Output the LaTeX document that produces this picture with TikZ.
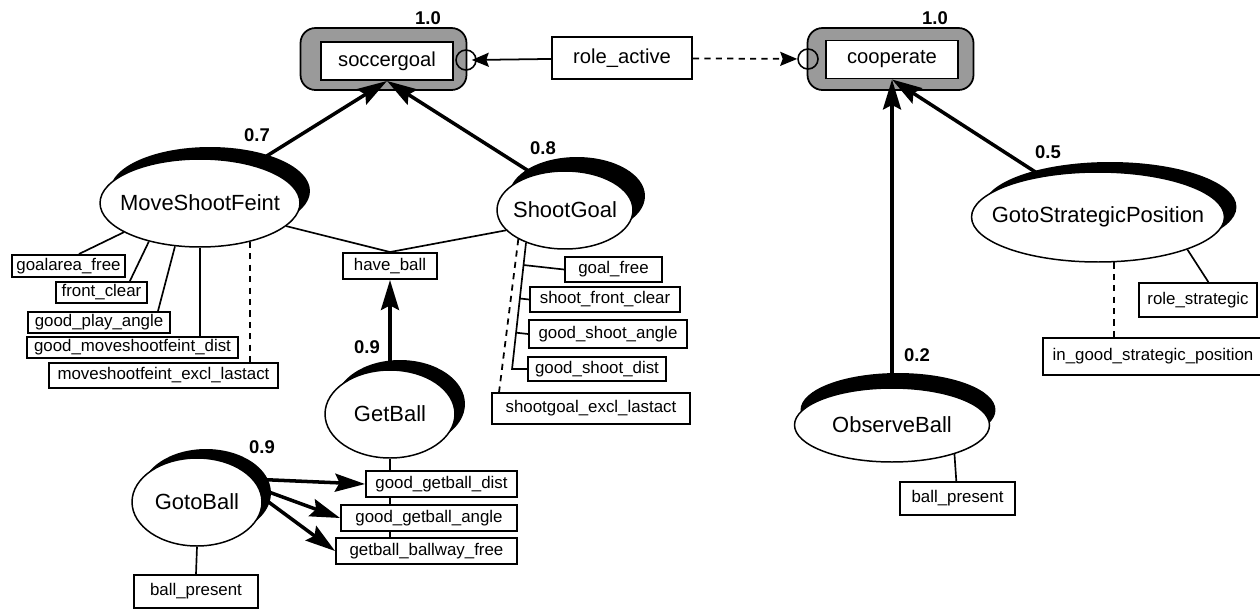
\documentclass[tikz,border=0pt]{standalone}
\usepackage{fontspec}
\setmainfont{Liberation Sans}
\usetikzlibrary{arrows.meta,calc,shadows,shapes.geometric}
\definecolor{GoalGray}{HTML}{9A9A9A}
\newcommand{\actfont}{\fontsize{12.5}{14}\selectfont}
\newcommand{\goalfont}{\fontsize{11.5}{13}\selectfont}
\newcommand{\condfont}{\fontsize{9.6}{11}\selectfont}
\newcommand{\wfont}{\fontsize{10.5}{12}\selectfont\bfseries}

\begin{document}
\begin{tikzpicture}[x=0.02cm,y=-0.02cm,
      act/.style n args={2}{ellipse,draw,fill=white,line width=0.85pt,inner sep=0pt,
      general shadow={fill=black,shadow xshift=#1,shadow yshift=#2}},
      actlbl/.style={font=\actfont,inner sep=0pt},
      goalbox/.style={rounded corners=0.3cm,draw,fill=GoalGray,line width=1pt,
      minimum width=3.32cm,minimum height=1.24cm},
      goalin/.style={draw,fill=white,line width=1.1pt,font=\goalfont,
      minimum width=2.64cm,minimum height=0.76cm},
      ring/.style={circle,draw,line width=0.9pt,minimum size=0.4cm,inner sep=0pt},
      cond/.style={draw,fill=white,line width=1.1pt,font=\condfont,
      inner xsep=1.5pt,inner ysep=0pt,minimum height=0.46cm},
      wt/.style={font=\wfont,inner sep=0pt},
      link/.style={line width=0.95pt},
      excl/.style={line width=1pt,dash pattern=on 3.5pt off 3pt},
      arr/.style={line width=2pt,-{Stealth[length=0.6cm,width=0.36cm,inset=0.09cm]}},
      rarr/.style={line width=1pt,-{Stealth[length=0.34cm,width=0.28cm,inset=0.05cm]}}]
      \useasboundingbox (0,0) rectangle (1260,609);
      % goals
      \node[goalbox] (sgoalbox) at (383.5,59) {};
      \node[goalin] (sgoal) at (387,61) {soccergoal};
      \node[ring] (sgring) at (466,60) {};
      \node[wt] (sgoalw) at (428,18) {1.0};
      \node[goalbox] (coopbox) at (890.5,59) {};
      \node[goalin] (coop) at (892,59.5) {cooperate};
      \node[ring] (coring) at (808,59) {};
      \node[wt] (coopw) at (935,18) {1.0};
      \node[goalin,minimum width=2.8cm,minimum height=0.84cm] (ra) at (622,58) {role\_active};
      \draw[rarr] (ra) -- ([xshift=-0.1cm]sgring.east);
      \draw[rarr,excl] (ra) -- (coring);
      % options
      \node[act={0.2cm}{0.24cm},minimum width=4cm,minimum height=1.76cm,
        label={[actlbl]center:MoveShootFeint}] (msf) at (200,203) {};
      \node[act={0.24cm}{0.28cm},minimum width=2.72cm,minimum height=1.56cm,
        label={[actlbl]center:ShootGoal}] (sg) at (565,210) {};
      \node[act={0.2cm}{0.2cm},minimum width=2.6cm,minimum height=1.76cm,
        label={[actlbl]center:GetBall}] (gb) at (390,414) {};
      \node[act={0.18cm}{0.18cm},minimum width=2.6cm,minimum height=1.76cm,
        label={[actlbl]center:GotoBall}] (gob) at (197,502) {};
      \node[act={0.12cm}{0.3cm},minimum width=3.9cm,minimum height=1.48cm,
        label={[actlbl]center:ObserveBall}] (obs) at (892,425) {};
      \node[act={0.24cm}{0.2cm},minimum width=5.06cm,minimum height=1.8cm,
        label={[actlbl]center:GotoStrategicPosition}] (gsp) at (1098,217) {};
      \node[wt] (msfw) at (257,135) {0.7};
      \node[wt] (sgw) at (543,148) {0.8};
      \node[wt] (gbw) at (367,347) {0.9};
      \node[wt] (gobw) at (262,447) {0.9};
      \node[wt] (obsw) at (917,355) {0.2};
      \node[wt] (gspw) at (1048,152) {0.5};
      % conditions
      \node[cond,minimum width=2.26cm,minimum height=0.44cm] (gaf) at (68.5,266) {goalarea\_free};
      \node[cond,minimum width=1.82cm,minimum height=0.42cm] (fc) at (101.5,292.5) {front\_clear};
      \node[cond,minimum width=2.84cm,minimum height=0.42cm] (gpa) at (99,322.5) {good\_play\_angle};
      \node[cond,minimum width=4.22cm,minimum height=0.42cm] (gmd) at (132.5,347.5) {good\_moveshootfeint\_dist};
      \node[cond,minimum width=4.58cm,minimum height=0.5cm] (mel) at (163.5,375.5) {moveshootfeint\_excl\_lastact};
      \node[cond,minimum width=1.88cm,minimum height=0.52cm] (hb) at (390,266) {have\_ball};
      \node[cond,minimum width=1.94cm,minimum height=0.5cm] (gf) at (613.5,269.5) {goal\_free};
      \node[cond,minimum width=3cm,minimum height=0.5cm] (sfc) at (605,299.5) {shoot\_front\_clear};
      \node[cond,minimum width=3.16cm,minimum height=0.56cm] (gsa) at (608,334) {good\_shoot\_angle};
      \node[cond,minimum width=2.76cm,minimum height=0.48cm] (gsd) at (597,369) {good\_shoot\_dist};
      \node[cond,minimum width=3.96cm,minimum height=0.62cm] (sel) at (591,408.5) {shootgoal\_excl\_lastact};
      \node[cond,minimum width=3.02cm,minimum height=0.52cm] (ggd) at (441.5,484) {good\_getball\_dist};
      \node[cond,minimum width=3.52cm,minimum height=0.52cm] (gga) at (429,518) {good\_getball\_angle};
      \node[cond,minimum width=3.62cm,minimum height=0.52cm] (gbf) at (426.5,551) {getball\_ballway\_free};
      \node[cond,minimum width=2.48cm,minimum height=0.66cm] (gobp) at (196,591.5) {ball\_present};
      \node[cond,minimum width=2.3cm,minimum height=0.66cm] (obsp) at (957.5,498.5) {ball\_present};
      \node[cond,minimum width=2.36cm,minimum height=0.68cm] (rs) at (1198,300) {role\_strategic};
      \node[cond,minimum width=4.4cm,minimum height=0.74cm] (igsp) at (1153,356.5) {in\_good\_strategic\_position};
      % links
      \draw[link] (gaf.49) -- (msf.201);
      \draw[link] (fc.22) -- (msf.217);
      \draw[link] (gpa.11) -- (msf.240);
      \draw[link] (msf.south) -- (msf.south |- gmd.north);
      \draw[excl] (msf.322) -- (msf.322 |- mel.north);
      \draw[link] (msf.345) -- (hb.north) -- (sg.199);
      \coordinate (sgfoot) at ([xshift=-0.3cm]gsd.west);
      \draw[link] (sg.220) -- (sgfoot) -- (gsd.west);
      \foreach \c in {gf,sfc,gsa}
        \draw[link] (\c.west) -- ($(sg.220)!(\c.west)!(sgfoot)$);
      \draw[excl] (sg.212) -- ([xshift=0.16cm]sel.north west);
      \draw[link] (gb.south) -- (gb.south |- ggd.north)
        (ggd.south -| gb.south) -- (gb.south |- gga.north)
        (gga.south -| gb.south) -- (gb.south |- gbf.north);
      \draw[link] (gob.south) -- (gobp.north);
      \draw[link] (obs.335) -- (obsp);
      \draw[link] (gsp.340) -- (rs.60);
      \draw[excl] (gsp.289) -- (gsp.289 |- igsp.north);
      % weighted arrows
      \draw[arr] (msf.36) -- (sgoal.south);
      \draw[arr] (sg.131) -- (sgoal.south);
      \draw[arr] (gb.north) -- (hb.south);
      \draw[arr] (gob.22) -- (ggd.west);
      \draw[arr] (gob.12) -- (gga.west);
      \draw[arr] (gob.4) -- (gbf.west);
      \draw[arr] (obs.north) -- (coop.south);
      \draw[arr] (gsp.144) -- (coop.south);
    \end{tikzpicture}
\end{document}
